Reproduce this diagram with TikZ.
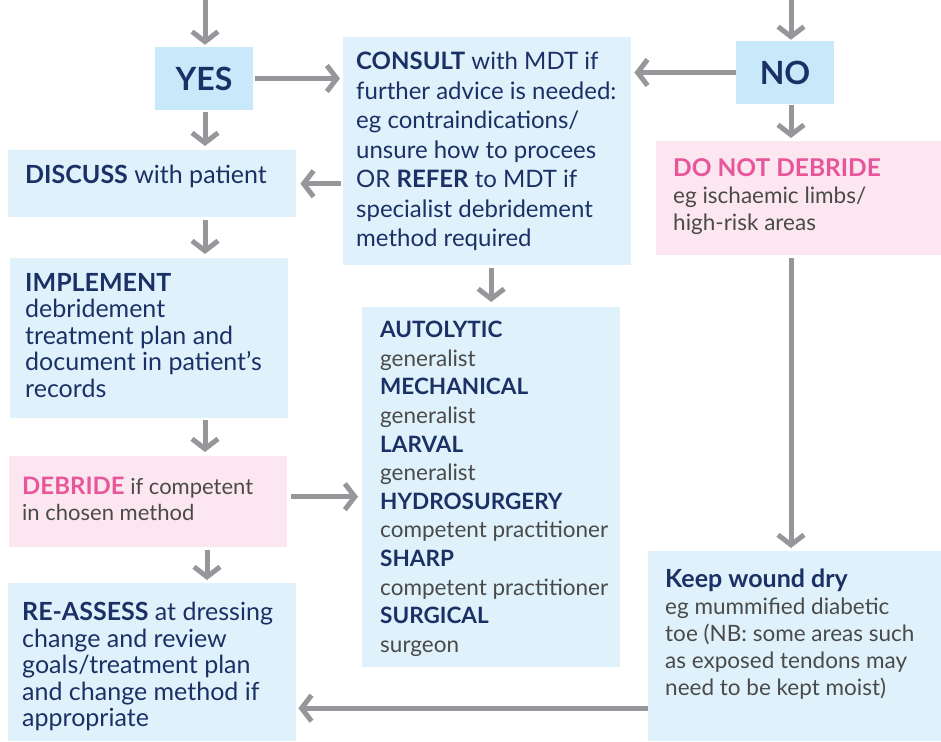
\documentclass[tikz,border=0pt]{standalone}
\usepackage{fontspec}
\setmainfont{Lato}
\usetikzlibrary{arrows.meta}
\definecolor{navy}{HTML}{1B3166}
\definecolor{pinkhd}{HTML}{E8559A}
\definecolor{pinkbg}{HTML}{FCE6F0}
\definecolor{bluebg}{HTML}{DFF2FB}
\definecolor{yesbg}{HTML}{C8E9F9}
\definecolor{graytx}{HTML}{4A4A4A}
\definecolor{arrgray}{HTML}{96979B}
\tikzset{
  box/.style={draw=none, inner sep=0pt, anchor=north west},
  bluebox/.style={box, fill=bluebg},
  pinkbox/.style={box, fill=pinkbg},
  ynbox/.style={box, fill=yesbg, font=\fontsize{32}{36}\selectfont\bfseries, text=navy},
  txt/.style={inner sep=0pt, anchor=north west, align=left, text=navy},
  arr/.style={draw=arrgray, line width=5pt, -{Straight Barb[length=10pt,width=26pt]}},
}
\newcommand{\hd}[1]{\textbf{#1}}
\newcommand{\hdsz}[3]{{\fontsize{#1}{#1}\selectfont\textcolor{#2}{\textbf{#3}}}}
\begin{document}
\begin{tikzpicture}[x=1pt,y=-1pt]
\useasboundingbox (0,0) rectangle (941,741);
% boxes
\node[ynbox, minimum width=98pt, minimum height=63pt, anchor=center] (yes) at (204,78.5) {YES};
\node[ynbox, minimum width=98pt, minimum height=63pt, anchor=center] (no) at (785,72.5) {NO};
\node[bluebox, minimum width=288pt, minimum height=228pt] (consult) at (343,37) {};
\node[bluebox, minimum width=288pt, minimum height=67pt] (discuss) at (8,150) {};
\node[bluebox, minimum width=278pt, minimum height=160pt] (implement) at (10,258) {};
\node[pinkbox, minimum width=278pt, minimum height=91pt] (debride) at (9,456) {};
\node[bluebox, minimum width=288pt, minimum height=158pt] (reassess) at (8,583) {};
\node[pinkbox, minimum width=285pt, minimum height=114pt] (dnd) at (656,141) {};
\node[bluebox, minimum width=258pt, minimum height=360pt] (methods) at (362,307) {};
\node[bluebox, minimum width=293pt, minimum height=190pt] (keep) at (648,551) {};
% texts
\node[txt, font=\fontsize{24}{29.5}\selectfont] (consultT) at (356,52)
 {\hd{CONSULT} with MDT if\\further advice is needed:\\eg contraindications/\\unsure how to procees\\OR \hd{REFER} to MDT if\\specialist debridement\\method required};
\node[txt, font=\fontsize{25}{27}\selectfont] (discussT) at (25,165) {\hd{DISCUSS} with patient};
\node[txt, font=\fontsize{25}{26.5}\selectfont] (implementT) at (25,273)
 {\hd{IMPLEMENT}\\debridement\\treatment plan and\\document in patient’s\\records};
\node[txt, font=\fontsize{22}{26}\selectfont, text=graytx] (debrideT) at (22,477)
 {\hdsz{24}{pinkhd}{DEBRIDE} if competent\\in chosen method};
\node[txt, font=\fontsize{25}{26.5}\selectfont] (reassessT) at (22,602)
 {\hd{RE-ASSESS} at dressing\\change and review\\goals/treatment plan\\and change method if\\appropriate};
\node[txt, font=\fontsize{22.5}{27}\selectfont, text=graytx] (dndT) at (673,158)
 {\hdsz{24.5}{pinkhd}{DO NOT DEBRIDE}\\eg ischaemic limbs/\\high-risk areas};
\node[txt, font=\fontsize{22.5}{28.6}\selectfont, text=graytx] (methodsT) at (380,321)
 {\textcolor{navy}{\hd{AUTOLYTIC}}\\generalist\\\textcolor{navy}{\hd{MECHANICAL}}\\generalist\\\textcolor{navy}{\hd{LARVAL}}\\generalist\\\textcolor{navy}{\hd{HYDROSURGERY}}\\competent practitioner\\\textcolor{navy}{\hd{SHARP}}\\competent practitioner\\\textcolor{navy}{\hd{SURGICAL}}\\surgeon};
\node[txt, font=\fontsize{22.5}{27}\selectfont, text=graytx] (keepT) at (665,569)
 {\hdsz{25}{navy}{Keep wound dry}\\eg mummified diabetic\\toe (NB: some areas such\\as exposed tendons may\\need to be kept moist)};
% free ends
\coordinate (topyes) at (205,0);
\coordinate (topno) at (791,0);
% arrows
\draw[arr] (topyes) -- ([yshift=2pt]topyes |- yes.north);
\draw[arr] (topno) -- ([yshift=1pt]topno |- no.north);
\draw[arr, shorten <=2pt, shorten >=3pt] (yes.east) -- (yes.east -| consult.west);
\draw[arr, shorten >=3pt] (no.west) -- (no.west -| consult.east);
\draw[arr, shorten <=2pt, shorten >=4pt] (topyes |- yes.south) -- (topyes |- discuss.north);
\draw[arr, shorten <=2pt, shorten >=4pt] (consult.west |- discuss.east) -- (discuss.east);
\draw[arr, shorten <=3pt, shorten >=4pt] (topyes |- discuss.south) -- (topyes |- implement.north);
\draw[arr, shorten <=2pt, shorten >=4pt] (topyes |- implement.south) -- (topyes |- debride.north);
\draw[arr, shorten <=3pt, shorten >=3pt] ([xshift=2pt]topyes |- debride.south) -- ([xshift=2pt]topyes |- reassess.north);
\draw[arr, shorten <=4pt, shorten >=4pt] ([yshift=5pt]debride.east) -- ([yshift=5pt]debride.east -| methods.west);
\draw[arr, shorten <=3pt, shorten >=5pt] (methods.north |- consult.south) -- (methods.north);
\draw[arr, shorten <=1pt, shorten >=3pt] (topno |- no.south) -- (topno |- dnd.north);
\draw[arr, shorten <=3pt, shorten >=3pt] (topno |- dnd.south) -- (topno |- keep.north);
\draw[arr, shorten >=2pt] ([yshift=-62pt]keep.west) -- ([yshift=-62pt]keep.west -| reassess.east);
\end{tikzpicture}
\end{document}
